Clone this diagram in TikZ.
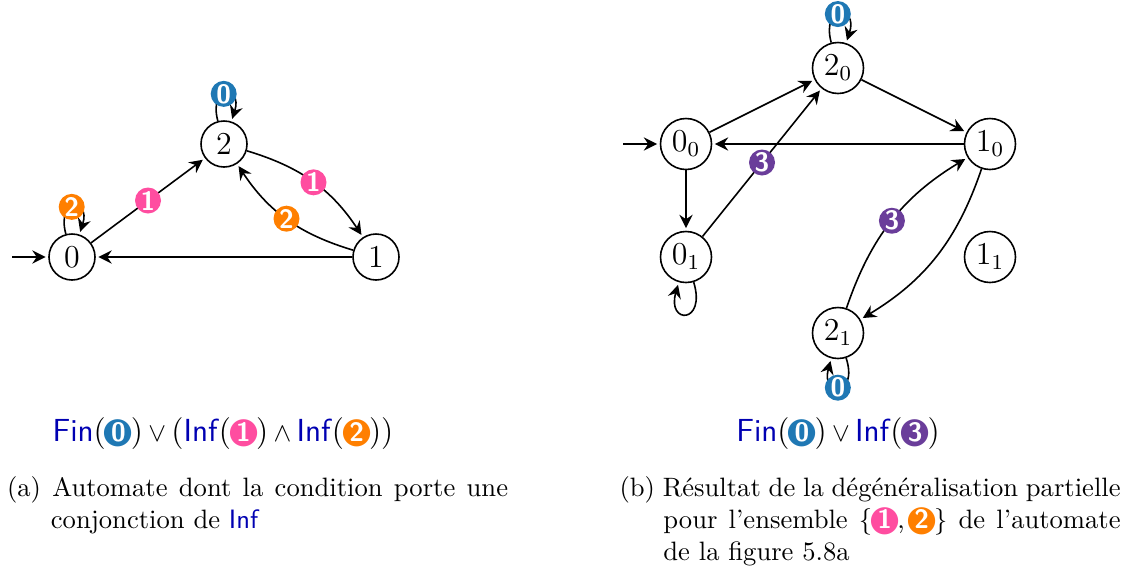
\documentclass[tikz,border=0pt]{standalone}
\usepackage{fontspec}
\usetikzlibrary{arrows.meta}
\newfontfamily\glyphfont{DejaVu Sans}
\definecolor{cblue}{HTML}{1F78B4}
\definecolor{cpink}{HTML}{FF4DA0}
\definecolor{corange}{HTML}{FF7F00}
\definecolor{cpurple}{HTML}{6A3D9A}
\definecolor{kwblue}{rgb}{0,0,0.7}
\newcommand{\kw}[1]{\textcolor{kwblue}{\textsf{#1}}}
\newcommand{\accset}[2]{\makebox[9.4pt][c]{\makebox[0pt][c]{\textcolor{#1}{\raisebox{-0.7pt}{\fontsize{13.4}{14}\glyphfont ●}}}\makebox[0pt][c]{\textcolor{white}{\sffamily\bfseries\fontsize{10}{10}\selectfont #2}}}}
\newcommand{\aZero}{\accset{cblue}{0}}
\newcommand{\aOne}{\accset{cpink}{1}}
\newcommand{\aTwo}{\accset{corange}{2}}
\newcommand{\aThree}{\accset{cpurple}{3}}
\newcommand{\smallop}[1]{{\normalsize$#1$}}
\tikzset{
  x=0.376pt,y=0.376pt,
  every loop/.style={},
  state/.style={draw,circle,line width=0.6pt,inner sep=0pt,minimum size=46*0.376pt,font=\large},
  statesub/.style={state,minimum size=51*0.376pt},
  edgeline/.style={line width=0.6pt,-{Stealth[length=5pt,width=5pt,inset=1.7pt]},shorten >=1pt},
  badge/.style={circle,inner sep=0pt,minimum size=26*0.376pt,text=white,font=\sffamily\bfseries\fontsize{10}{10}\selectfont},
  loopbadge/.style={badge,xshift=-0.6pt},
  formula/.style={anchor=base,inner sep=0pt,font=\large},
  captionbox/.style={anchor=north west,inner sep=0pt,text width=188.4pt,align=justify},
}
\begin{document}
\begin{tikzpicture}
\useasboundingbox (0,0) rectangle (1141,-569);
% left automaton
\node[state] (a0) at (72,-257) {$0$};
\node[state] (a1) at (376,-257) {$1$};
\node[state] (a2) at (224,-144) {$2$};
\coordinate (ainit) at (12,-257);
\draw[edgeline] (ainit) -- (a0);
\draw[edgeline] (a0) -- node[badge,fill=cpink] {1} (a2);
\draw[edgeline] (a2) to[bend left=20] node[badge,fill=cpink] {1} (a1);
\draw[edgeline] (a1) to[bend left=20] node[badge,fill=corange] {2} (a2);
\draw[edgeline] (a1) -- (a0);
\draw[edgeline] (a2) to[loop,out=105,in=72,min distance=38*0.376pt] node[loopbadge,fill=cblue] {0} (a2);
\draw[edgeline] (a0) to[loop,out=105,in=72,min distance=38*0.376pt] node[loopbadge,fill=corange] {2} (a0);
% right automaton
\node[statesub] (b00) at (686,-144) {$0_0$};
\node[statesub] (b01) at (686,-257) {$0_1$};
\node[statesub] (b10) at (990,-144) {$1_0$};
\node[statesub] (b11) at (990,-257) {$1_1$};
\node[statesub] (b20) at (838,-68) {$2_0$};
\node[statesub] (b21) at (838,-333) {$2_1$};
\coordinate (binit) at (623,-144);
\draw[edgeline] (binit) -- (b00);
\draw[edgeline] (b00) -- (b20);
\draw[edgeline] (b20) -- (b10);
\draw[edgeline] (b10) -- (b00);
\draw[edgeline] (b00) -- (b01);
\draw[edgeline] (b01) -- node[badge,fill=cpurple] {3} (b20);
\draw[edgeline] (b21) to[bend left=20] node[badge,fill=cpurple] {3} (b10);
\draw[edgeline] (b10) to[bend left=20] (b21);
\draw[edgeline] (b20) to[loop,out=105,in=72,min distance=40*0.376pt] node[loopbadge,fill=cblue] {0} (b20);
\draw[edgeline] (b21) to[loop,out=-72,in=-105,min distance=41*0.376pt] node[loopbadge,fill=cblue] {0} (b21);
\draw[edgeline] (b01) to[loop,out=-73,in=-106,min distance=44*0.376pt] (b01);
% formulas
\node[formula] (fa) at (223,-441) {\kw{Fin}(\aZero)\,\smallop{\vee}\,(\kw{Inf}(\aOne)\,\smallop{\wedge}\,\kw{Inf}(\aTwo))};
\node[formula] (fb) at (838,-441) {\kw{Fin}(\aZero)\,\smallop{\vee}\,\kw{Inf}(\aThree)};
% captions
\node[captionbox] (ca) at (6.5,-476) {\hangindent=16.5pt\hangafter=1 (a) Automate dont la condition porte une\linebreak conjonction de \kw{Inf}\par};
\node[captionbox] (cb) at (619,-476) {\hangindent=16.5pt\hangafter=1 (b) Résultat de la dégénéralisation partielle\linebreak pour l’ensemble $\{$\aOne,\,\aTwo$\}$ de l’automate\linebreak de la figure 5.8a\par};
\end{tikzpicture}
\end{document}
